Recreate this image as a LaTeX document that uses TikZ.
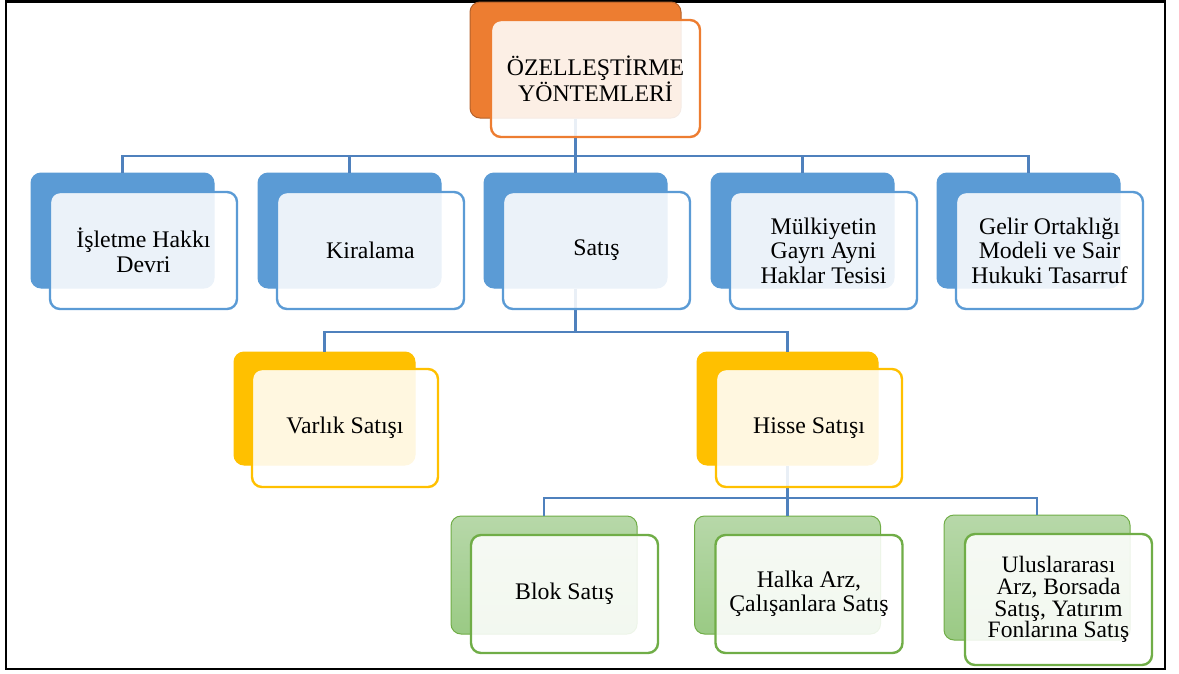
\documentclass[tikz,border=0pt]{standalone}
\usepackage{fontspec}
\setmainfont{Liberation Serif}
\definecolor{blueC}{HTML}{5B9BD5}
\definecolor{orangeC}{HTML}{ED7D31}
\definecolor{orangeD}{HTML}{B4612A}
\definecolor{yellowC}{HTML}{FFC000}
\definecolor{greenC}{HTML}{70AD47}
\definecolor{greenT}{HTML}{B7D8A9}
\definecolor{greenB}{HTML}{9ACA84}
\definecolor{lineC}{HTML}{4F81BD}
\begin{document}
\begin{tikzpicture}[x=1pt,y=-1pt,
  back/.style={rectangle, rounded corners=10pt, inner sep=0pt, line width=1pt},
  front/.style={rectangle, rounded corners=10pt, inner sep=0pt, line width=2.4pt,
    fill=white, fill opacity=0.88, text opacity=1, align=center,
    font=\fontsize{23.8}{24.5}\selectfont},
  link/.style={draw=lineC, line width=2.2pt},
  bb/.style={back, fill=blueC, draw=blueC, minimum width=183pt, minimum height=115pt},
  fb/.style={front, draw=blueC, minimum width=187pt, minimum height=117pt},
  by/.style={back, fill=yellowC, draw=yellowC, minimum width=181pt, minimum height=113pt},
  fy/.style={front, draw=yellowC, minimum width=186pt, minimum height=118pt},
  bg/.style={back, top color=greenT, bottom color=greenB, draw=greenC, minimum width=186pt},
  fg/.style={front, draw=greenC, minimum width=187pt}]
\useasboundingbox (0,0) rectangle (1179,673);
\draw[line width=2.5pt] (6,1.5) rectangle (1165,669);
% back boxes
\node[back, fill=orangeC, draw=orangeD, minimum width=211pt, minimum height=116pt] (b0) at (575.5,60) {};
\node[bb] (b1) at (122.5,230.5) {};
\node[bb] (b2) at (349.5,230.5) {};
\node[bb] (b3) at (575.5,230.5) {};
\node[bb] (b4) at (802.5,230.5) {};
\node[bb] (b5) at (1028.5,230.5) {};
\node[by] (b6) at (324.5,408.5) {};
\node[by] (b7) at (787.5,408.5) {};
\node[bg, minimum height=118pt] (b8) at (544,575) {};
\node[bg, minimum height=118pt] (b9) at (787.5,575) {};
\node[bg, minimum height=125pt] (b10) at (1037,577.5) {};
% connectors
\coordinate (j0) at (575.5,156);
\coordinate (j1) at (575.5,332);
\coordinate (j2) at (787.5,498);
\draw[link] (b0.south) -- (j0) -| (b1.north);
\draw[link] (j0) -| (b2.north);
\draw[link] (j0) -- (b3.north);
\draw[link] (j0) -| (b4.north);
\draw[link] (j0) -| (b5.north);
\draw[link] (b3.south) -- (j1) -| (b6.north);
\draw[link] (j1) -| (b7.north);
\draw[link] (b7.south) -- (j2) -| (b8.north);
\draw[link] (j2) -- (b9.north);
\draw[link] (j2) -| (b10.north);
% front boxes
\node[front, draw=orangeC, minimum width=209pt, minimum height=117pt] (f0) at (595.5,78.5) {ÖZELLEŞTİRME\\YÖNTEMLERİ};
\node[fb] (f1) at (143.5,250.5) {İşletme Hakkı\\Devri};
\node[fb] (f2) at (370.5,250.5) {Kiralama};
\node[fb] (f3) at (596.5,250.5) {Satış};
\node[fb] (f4) at (823.5,250.5) {Mülkiyetin\\Gayrı Ayni\\Haklar Tesisi};
\node[fb] (f5) at (1049.5,250.5) {Gelir Ortaklığı\\Modeli ve Sair\\Hukuki Tasarruf};
\node[fy] (f6) at (345,428) {Varlık Satışı};
\node[fy] (f7) at (809,428) {Hisse Satışı};
\node[fg, minimum height=118pt] (f8) at (564.5,594) {Blok Satış};
\node[fg, minimum height=118pt] (f9) at (809,594) {Halka Arz,\\Çalışanlara Satış};
\node[fg, minimum height=131pt, font=\fontsize{23.5}{21.8}\selectfont] (f10) at (1058.5,599.5) {Uluslararası\\Arz, Borsada\\Satış, Yatırım\\Fonlarına Satış};
\end{tikzpicture}
\end{document}
